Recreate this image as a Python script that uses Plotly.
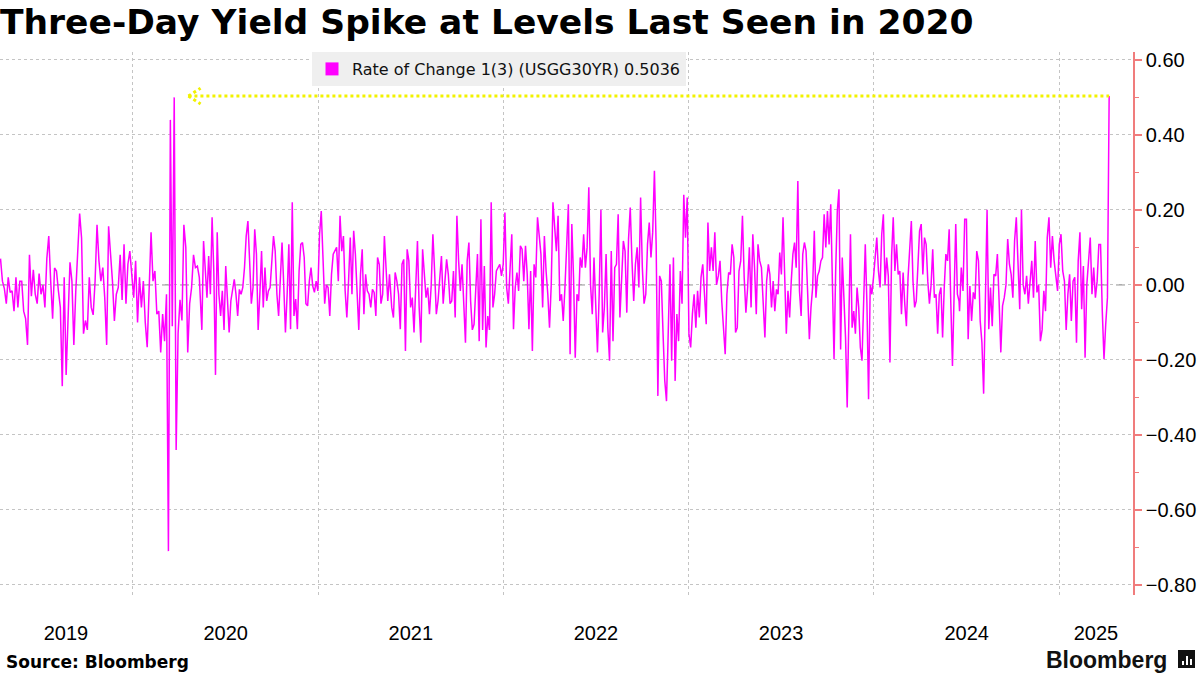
import pandas as pd
import numpy as np
import plotly.graph_objects as go
from datetime import timedelta

# ---------------- DATA ----------------
seg1_dates = ("2019-04-15", "2020-05-11")
seg1 = [0.07,0.01,-0.01,-0.05,0.02,-0.02,-0.016,-0.07,0.02,-0.06,
        0.01,0.01,-0.07,-0.09,-0.16,0.08,-0.03,0.04,-0.025,-0.05,
        0.03,-0.025,0.0,-0.06,0.07,0.13,0.01,-0.09,0.045,0.037,
        -0.016,-0.06,-0.27,0.02,-0.24,-0.09,0.06,0.01,-0.16,-0.016,
        0.08,0.19,0.125,-0.13,-0.095,-0.12,0.02,-0.06,-0.08,0.01,
        0.16,0.064,0.01,0.046,-0.034,-0.16,0.156,0.09,0.01,-0.096,
        -0.025,-0.007,0.08,-0.04,0.108,-0.05,0.055,0.09,0.03,-0.034,
        0.064,-0.10,0.02,-0.06,0.01,-0.10,-0.166,-0.007,0.14,0.01,
        0.037,-0.078,-0.07,-0.18,-0.078,-0.15,-0.025,-0.71,0.44,-0.11,
        0.50,-0.44,-0.13,-0.04,-0.095,0.16,0.10,-0.18,-0.05,-0.007,
        0.08,0.046,0.05,0.02]

seg2_dates = ("2020-05-16", "2021-05-21")
seg2 = [-0.12,0.117,0.037,-0.034,0.077,-0.025,0.18,0.037,-0.24,0.14,
        -0.025,-0.083,-0.016,-0.12,0.05,-0.05,-0.127,-0.043,-0.007,0.015,
        -0.025,-0.083,-0.012,-0.025,-0.007,0.046,0.13,0.17,0.064,-0.05,
        -0.007,0.148,0.082,-0.12,-0.025,0.09,-0.06,0.046,-0.043,-0.016,
        -0.007,0.05,0.13,0.09,-0.025,-0.083,0.037,0.113,0.0,-0.127,
        -0.025,0.108,-0.118,0.22,-0.083,-0.038,-0.118,0.037,0.108,0.113,
        0.073,-0.05,-0.056,0.01,0.046,-0.003,-0.02,0.01,-0.016,0.135,
        0.197,0.055,-0.05,0.0,-0.007,-0.083,0.028,0.082,0.09,0.10,
        0.01,0.184,0.09,0.13,-0.016,-0.087,0.01,0.126,-0.025,0.144,
        0.082,-0.043,-0.12,0.028,0.095,-0.078,0.028,-0.016,-0.025,-0.06,
        -0.012,-0.02,-0.083,0.073,0.055,-0.05,-0.025,0.13,0.046,-0.043,
        0.028]

seg3_dates = ("2021-05-22", "2022-05-29")
seg3 = [0.0,-0.06,-0.087,0.033,0.01,-0.025,-0.118,0.055,0.068,-0.176,
        0.095,0.064,-0.06,-0.034,-0.127,0.02,0.117,-0.06,-0.154,0.095,
        0.02,-0.034,-0.007,-0.078,-0.003,0.135,0.037,-0.078,-0.043,0.015,
        0.077,-0.05,0.0,0.068,0.028,-0.05,-0.043,0.037,-0.087,0.184,
        0.064,-0.016,0.055,-0.06,-0.154,0.064,0.113,-0.043,-0.12,-0.105,
        0.0,0.082,-0.15,0.175,-0.12,0.05,-0.167,-0.083,-0.12,0.22,
        -0.06,-0.025,0.037,0.046,0.055,0.024,0.055,0.193,-0.007,-0.05,
        0.064,0.135,-0.118,-0.007,0.033,-0.016,0.104,0.095,0.01,0.104,
        0.028,-0.118,0.037,-0.176,0.055,0.02,0.18,0.126,0.082,-0.06,
        0.13,0.037,-0.025,-0.114,0.0,0.22,0.144,0.09,0.184,-0.043,
        -0.025,-0.096,-0.007,0.126,0.215,-0.185,0.162,0.02,-0.194,-0.025,
        -0.043]

seg4_dates = ("2022-06-01", "2023-06-07")
seg4 = [0.073,0.046,0.135,0.046,0.10,0.26,0.0,-0.078,0.073,-0.05,
        -0.18,-0.025,0.20,-0.127,-0.06,0.082,-0.114,-0.202,0.09,-0.15,
        0.046,0.055,0.188,-0.087,0.037,0.117,0.09,-0.074,0.122,0.206,
        0.064,-0.043,0.055,0.10,-0.007,0.233,0.046,-0.05,-0.025,0.108,
        0.166,0.073,0.14,0.304,0.108,-0.296,0.024,0.01,-0.13,-0.256,
        -0.31,-0.158,0.055,-0.202,0.073,-0.256,-0.078,-0.15,0.037,-0.05,
        0.24,0.126,0.233,-0.13,-0.167,-0.078,-0.025,-0.114,-0.016,-0.087,
        0.02,0.055,-0.043,-0.105,0.166,0.037,0.10,0.037,0.14,0.0,
        0.024,0.064,-0.043,-0.12,-0.185,-0.025,0.033,0.028,0.108,0.073,
        -0.127,-0.114,0.037,0.064,0.184,0.02,-0.074,-0.007,0.10,-0.06,
        0.135,0.046,-0.078,0.108,0.064,0.046,-0.06,-0.14,0.01,0.055]

seg5_dates = ("2023-06-10", "2024-06-17")
seg5 = [0.028,-0.06,0.01,-0.07,-0.012,-0.025,0.086,0.028,0.18,0.037,
        -0.13,-0.016,-0.087,0.01,0.082,0.113,0.046,0.277,-0.016,-0.083,
        0.082,0.113,0.09,-0.025,-0.145,-0.06,-0.007,0.144,-0.034,0.024,
        0.037,0.064,0.073,0.188,0.10,0.197,0.108,0.215,0.037,-0.198,
        0.037,0.197,0.255,-0.172,0.073,-0.043,-0.14,-0.327,-0.087,0.135,
        -0.114,-0.07,-0.13,-0.007,-0.06,-0.167,-0.202,-0.043,0.108,-0.05,
        -0.305,0.0,-0.025,0.02,0.082,0.126,0.037,-0.007,0.135,0.188,
        0.0,0.073,0.024,-0.207,0.077,0.18,0.037,0.108,0.028,0.037,
        -0.078,0.033,-0.05,-0.11,0.02,0.09,0.17,0.01,-0.06,-0.043,
        0.064,0.144,0.162,0.028,0.126,0.108,0.01,-0.05,0.0,0.095,
        -0.034,-0.025,-0.13,-0.025,-0.007,-0.14,-0.007,0.082,0.064,0.148,
        -0.05,-0.216,-0.025,0.162,-0.025,-0.043]

seg6_dates = ("2024-06-18", "2025-04-09")
seg6 = [-0.07,0.046,-0.016,0.175,0.175,-0.145,-0.003,-0.096,-0.02,-0.038,
        0.09,0.064,-0.096,-0.154,-0.29,-0.007,0.2,-0.118,-0.007,-0.11,
        0.028,0.024,0.082,-0.043,-0.18,-0.056,-0.034,0.0,0.122,0.055,
        0.028,-0.034,0.117,0.18,0.055,-0.065,0.2,0.0,-0.025,0.024,
        -0.05,0.01,0.064,-0.034,0.117,-0.02,0.0,-0.15,-0.12,-0.016,
        -0.07,0.126,0.18,0.046,0.13,0.064,0.024,-0.016,0.108,0.135,
        0.037,0.01,-0.12,-0.025,0.028,-0.096,0.01,0.02,-0.154,0.064,
        0.14,-0.065,0.05,-0.194,0.0,0.064,0.126,-0.025,0.046,-0.034,
        0.01,0.108,0.108,-0.07,-0.198,-0.105,-0.034,0.5036]

segments = [(seg1_dates, seg1), (seg2_dates, seg2), (seg3_dates, seg3),
            (seg4_dates, seg4), (seg5_dates, seg5), (seg6_dates, seg6)]

series_name = "Rate of Change 1(3) (USGG30YR) 0.5036"
x_range = ["2019-04-14", "2025-05-26"]
year_bounds = ["2020-01-01", "2021-01-01", "2022-01-01", "2023-01-01",
               "2024-01-01", "2025-01-01"]
year_label_pos = ["2019-08-22", "2020-07-02", "2021-07-02", "2022-07-02",
                  "2023-07-02", "2024-07-02", "2025-03-14"]
year_labels = ["2019", "2020", "2021", "2022", "2023", "2024", "2025"]
y_range = [-0.827, 0.621]

# ---------------- BUILD SERIES ----------------
all_dates, all_vals = [], []
for (d0, d1), vals in segments:
    dr = pd.date_range(d0, d1, periods=len(vals))
    all_dates.extend(list(dr))
    all_vals.extend(vals)
s = pd.Series(all_vals, index=pd.DatetimeIndex(all_dates))

last_date = s.index[-1]
last_val = s.iloc[-1]
s2020 = s["2020-01-01":"2020-12-31"]
peak2020_date = s2020.idxmax()

W, H = 1200, 675
ML, MR, MT, MB = 0, 67, 52, 80
PW, PH = W - ML - MR, H - MT - MB


def px_x(px):
    return (px - ML) / PW


def px_y(py):
    return (H - MB - py) / PH


MAG = "#ff00ff"
AXIS_RED = "#f07c7c"
GRID = "#c4c4c4"
YEL = "#f2f200"

fig = go.Figure()
fig.add_trace(go.Scatter(x=s.index, y=s.values, mode="lines",
                         line=dict(color=MAG, width=1.5),
                         showlegend=False, hoverinfo="x+y"))
fig.add_trace(go.Scatter(x=[None], y=[None], mode="markers",
                         marker=dict(symbol="square", size=13, color=MAG),
                         name=series_name, showlegend=True))

# zero line (dashed)
fig.add_shape(type="line", xref="paper", x0=0, x1=1, yref="y", y0=0, y1=0,
              line=dict(color="#7a7a7a", width=1, dash="dash"), layer="below")

# yellow dotted arrow from latest spike back to the 2020 peak
arrow_tip = peak2020_date + timedelta(days=28)
arm = timedelta(days=24)
dy = 0.021
fig.add_shape(type="line", xref="x", yref="y", x0=arrow_tip, x1=last_date,
              y0=last_val, y1=last_val,
              line=dict(color=YEL, width=3, dash="dot"))
fig.add_shape(type="line", xref="x", yref="y", x0=arrow_tip, x1=arrow_tip + arm,
              y0=last_val, y1=last_val + dy,
              line=dict(color=YEL, width=3, dash="dot"))
fig.add_shape(type="line", xref="x", yref="y", x0=arrow_tip, x1=arrow_tip + arm,
              y0=last_val, y1=last_val - dy,
              line=dict(color=YEL, width=3, dash="dot"))

# footer
fig.add_annotation(text="<b>Source: Bloomberg</b>", xref="paper", yref="paper",
                   x=px_x(4), y=px_y(662), xanchor="left", yanchor="middle",
                   showarrow=False,
                   font=dict(family="DejaVu Sans", size=17, color="#000"))
fig.add_annotation(text="<b>Bloomberg</b>", xref="paper", yref="paper",
                   x=px_x(1169), y=px_y(660), xanchor="right", yanchor="middle",
                   showarrow=False,
                   font=dict(family="Liberation Sans", size=23, color="#111"))
# small logo glyph
fig.add_shape(type="rect", xref="paper", yref="paper",
              x0=px_x(1178), x1=px_x(1195), y0=px_y(650), y1=px_y(668),
              fillcolor="#111", line=dict(width=0))
for bx, top in [(1182, 661), (1186, 656), (1190, 659)]:
    fig.add_shape(type="rect", xref="paper", yref="paper",
                  x0=px_x(bx), x1=px_x(bx + 2), y0=px_y(top), y1=px_y(665),
                  fillcolor="#fff", line=dict(width=0))

fig.update_layout(
    width=W, height=H,
    margin=dict(l=ML, r=MR, t=MT, b=MB),
    paper_bgcolor="#ffffff", plot_bgcolor="#ffffff",
    title=dict(text="<b>Three-Day Yield Spike at Levels Last Seen in 2020</b>",
               font=dict(family="DejaVu Sans", size=34.5, color="#000"),
               x=0.0, xanchor="left", xref="container",
               y=0.985, yanchor="top", yref="container"),
    legend=dict(x=px_x(312), y=1, xanchor="left", yanchor="top",
                bgcolor="#efefef", borderwidth=0,
                font=dict(family="DejaVu Sans", size=16, color="#111"),
                itemwidth=30),
    showlegend=True,
    xaxis=dict(type="date", range=x_range,
               tickmode="array", tickvals=year_label_pos, ticktext=year_labels,
               showgrid=False, ticks="", showline=False, zeroline=False,
               ticklabelstandoff=24,
               tickfont=dict(family="Liberation Sans", size=20, color="#000"),
               minor=dict(tickmode="array", tickvals=year_bounds, showgrid=True,
                          gridcolor=GRID, griddash="dot", gridwidth=1, ticks="")),
    yaxis=dict(side="right", range=y_range, tick0=0, dtick=0.2,
               tickformat=".2f", showgrid=True, gridcolor=GRID, griddash="dot",
               zeroline=False, showline=True, linecolor=AXIS_RED, linewidth=1.5,
               ticks="outside", ticklen=7, tickwidth=2, tickcolor=AXIS_RED,
               tickfont=dict(family="Liberation Sans", size=20, color="#000"),
               minor=dict(dtick=0.1, ticks="outside", ticklen=4, tickwidth=1,
                          tickcolor=AXIS_RED, showgrid=False)),
)

fig.write_html("out.html",
               config={"displayModeBar": False},
               post_script="document.body.style.margin='0';"
                           "document.body.style.padding='0';")
